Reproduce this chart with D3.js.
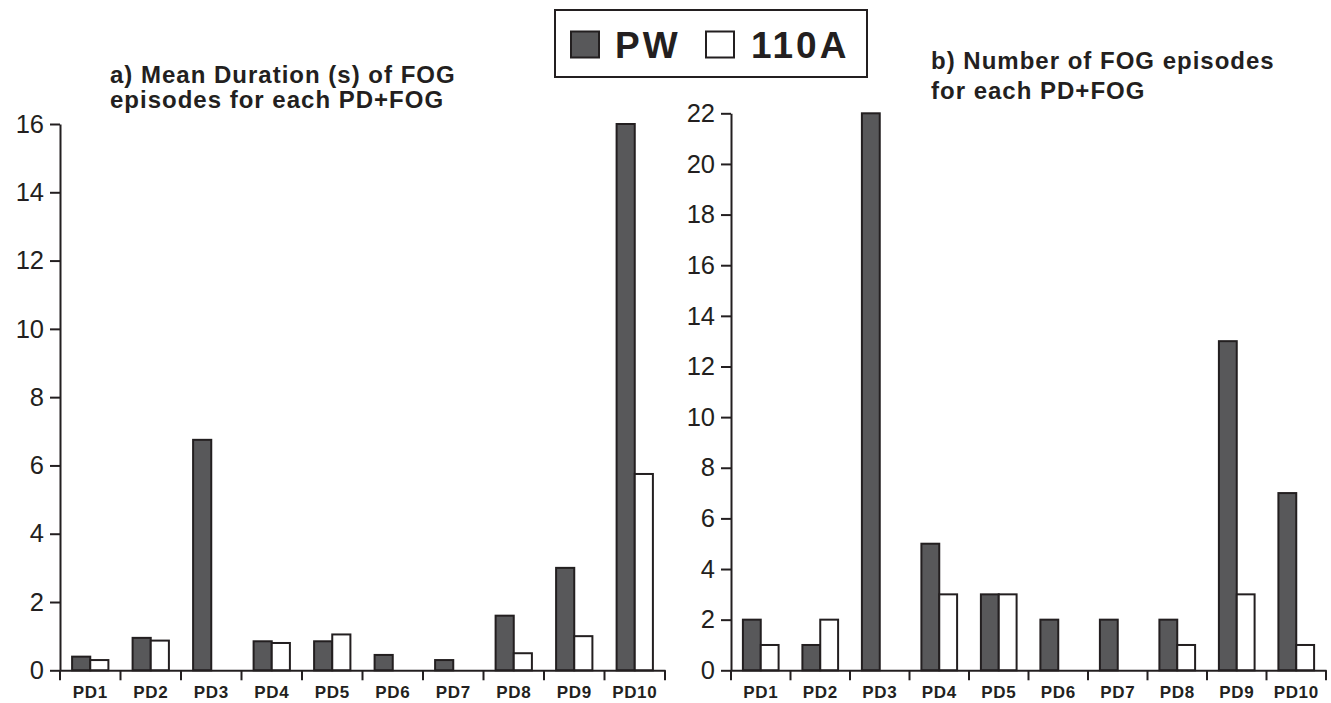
<!DOCTYPE html>
<html>
<head>
<meta charset="utf-8">
<script src="https://cdn.jsdelivr.net/npm/d3@7"></script>
<style>
  body { margin: 0; background: #fff; }
  text { font-family: "Liberation Sans", Arial, Helvetica, sans-serif; fill: #231f20; }
</style>
</head>
<body>
<script>
// data
var categories = ["PD1","PD2","PD3","PD4","PD5","PD6","PD7","PD8","PD9","PD10"];
var seriesNames = ["PW", "110A"];
var durationPW   = [0.4, 0.95, 6.75, 0.85, 0.85, 0.45, 0.3, 1.6, 3.0, 16];
var duration110A = [0.3, 0.87, 0, 0.8, 1.05, 0, 0, 0.5, 1.0, 5.75];
var episodesPW   = [2, 1, 22, 5, 3, 2, 2, 2, 13, 7];
var episodes110A = [1, 2, 0, 3, 3, 0, 0, 1, 3, 1];
var durationTicks = [0, 2, 4, 6, 8, 10, 12, 14, 16];
var episodeTicks = [0, 2, 4, 6, 8, 10, 12, 14, 16, 18, 20, 22];

var w = 1331;
var h = 703;
var ink = "#231f20";
var colors = {"PW": "#58585a", "110A": "#ffffff"};

var svg = d3.select("body")
    .append("svg")
    .attr("width", w)
    .attr("height", h);

function drawPanel(opts) {
    var g = svg.append("g");
    var x = d3.scaleBand()
        .domain(categories)
        .range([opts.left, opts.right])
        .padding(0);
    var bw = x.bandwidth();
    var x1 = d3.scaleBand()
        .domain(seriesNames)
        .range([bw * 0.2, bw * 0.8]);
    var y = d3.scaleLinear()
        .domain([0, d3.max(opts.ticks)])
        .range([opts.base, opts.top]);

    var rows = categories.map(function(c, i) {
        return {cat: c, values: [
            {name: "PW", v: opts.a[i]},
            {name: "110A", v: opts.b[i]}
        ]};
    });

    // bars
    g.selectAll("g.grp")
        .data(rows)
        .enter()
        .append("g")
        .attr("class", "grp")
        .attr("transform", function(d) { return "translate(" + x(d.cat) + ",0)"; })
        .selectAll("rect")
        .data(function(d) { return d.values.filter(function(s) { return s.v > 0; }); })
        .enter()
        .append("rect")
        .attr("x", function(d) { return x1(d.name); })
        .attr("y", function(d) { return y(d.v); })
        .attr("width", x1.bandwidth())
        .attr("height", function(d) { return opts.base - y(d.v); })
        .attr("fill", function(d) { return colors[d.name]; })
        .attr("stroke", ink)
        .attr("stroke-width", 2);

    // y axis
    var ya = g.append("g")
        .attr("transform", "translate(" + opts.left + ",0)")
        .call(d3.axisLeft(y).tickValues(opts.ticks).tickSize(10).tickSizeOuter(0).tickPadding(6));
    ya.selectAll("path, line").attr("stroke", ink).attr("stroke-width", 2);
    ya.selectAll("text")
        .attr("font-size", "25.5px")
        .style("font-family", "'Liberation Sans', Arial, sans-serif")
        .attr("fill", ink);

    // x axis
    var xa = g.append("g")
        .attr("transform", "translate(0," + opts.base + ")")
        .call(d3.axisBottom(x).tickSize(0).tickSizeOuter(0).tickPadding(16));
    xa.select(".domain").attr("stroke", ink).attr("stroke-width", 2);
    xa.selectAll("text")
        .attr("font-size", "17px")
        .attr("font-weight", "bold")
        .attr("letter-spacing", "0.6px")
        .style("font-family", "'Liberation Sans', Arial, sans-serif")
        .attr("fill", ink);

    var edges = categories.map(function(c) { return x(c); }).concat([opts.right]);
    g.selectAll("line.edge")
        .data(edges)
        .enter()
        .append("line")
        .attr("class", "edge")
        .attr("x1", function(d) { return d; })
        .attr("x2", function(d) { return d; })
        .attr("y1", opts.base)
        .attr("y2", opts.base + 10)
        .attr("stroke", ink)
        .attr("stroke-width", 2);

    // title
    var t = g.append("text")
        .attr("font-size", "24px")
        .attr("font-weight", "bold")
        .attr("letter-spacing", "1px");
    opts.title.forEach(function(line, i) {
        t.append("tspan")
            .attr("x", opts.titleX)
            .attr("y", opts.titleY[i])
            .text(line);
    });
}

drawPanel({
    left: 60, right: 665, base: 670.3, top: 124,
    a: durationPW, b: duration110A, ticks: durationTicks,
    title: ["a) Mean Duration (s) of FOG", "episodes for each PD+FOG"],
    titleX: 110, titleY: [82.5, 107.5]
});

drawPanel({
    left: 731, right: 1326, base: 670.3, top: 113.3,
    a: episodesPW, b: episodes110A, ticks: episodeTicks,
    title: ["b) Number of FOG episodes", "for each PD+FOG"],
    titleX: 931, titleY: [68.5, 99]
});

// legend
var legend = svg.append("g");
legend.append("rect")
    .attr("x", 555).attr("y", 10)
    .attr("width", 312).attr("height", 67)
    .attr("fill", "#fff")
    .attr("stroke", ink)
    .attr("stroke-width", 2);
var legendItems = [
    {name: "PW", box: 571, text: 615},
    {name: "110A", box: 706, text: 751}
];
legend.selectAll("rect.key")
    .data(legendItems)
    .enter()
    .append("rect")
    .attr("class", "key")
    .attr("x", function(d) { return d.box; })
    .attr("y", 31.5)
    .attr("width", 28)
    .attr("height", 26)
    .attr("fill", function(d) { return colors[d.name]; })
    .attr("stroke", ink)
    .attr("stroke-width", 2);
legend.selectAll("text.key")
    .data(legendItems)
    .enter()
    .append("text")
    .attr("class", "key")
    .attr("x", function(d) { return d.text; })
    .attr("y", 57.5)
    .attr("font-size", "37px")
    .attr("font-weight", "bold")
    .attr("letter-spacing", "3px")
    .text(function(d) { return d.name; });
</script>
</body>
</html>
